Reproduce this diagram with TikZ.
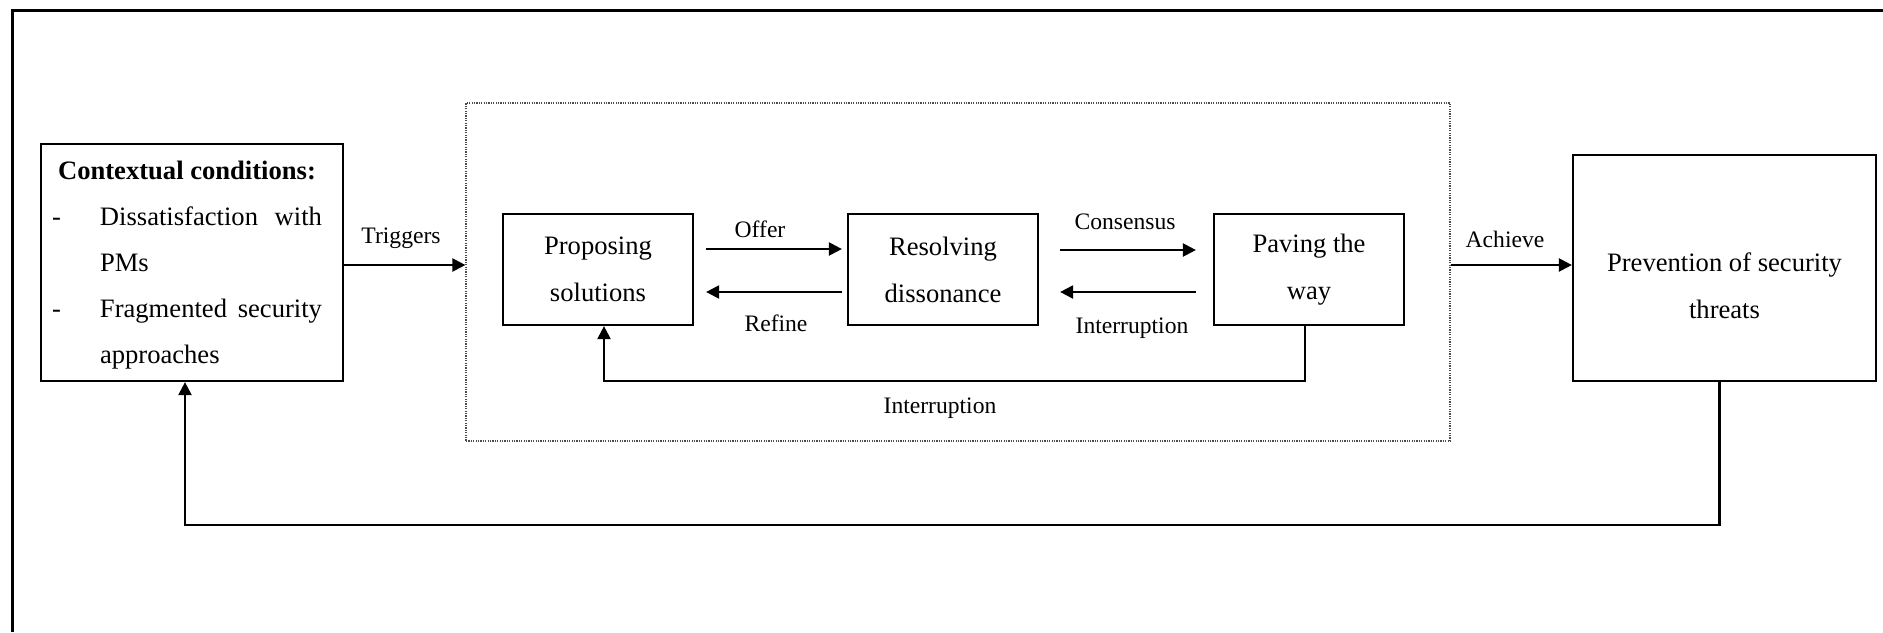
\documentclass[tikz,border=0pt]{standalone}
\usepackage{fontspec}
\setmainfont{Liberation Serif}
\usetikzlibrary{arrows.meta,calc}
\begin{document}
\begin{tikzpicture}[x=0.5pt,y=-0.5pt,
  box/.style={draw, line width=1.1pt, inner sep=0pt, align=center, font=\fontsize{13.3}{23.5}\selectfont},
  boxtext/.style={inner sep=0pt, align=center, font=\fontsize{13.3}{23.5}\selectfont},
  lbl/.style={inner sep=0pt, font=\fontsize{11.8}{14}\selectfont},
  arr/.style={line width=1.1pt, -{Triangle[length=6.5pt,width=6.5pt]}},
  frame/.style={line width=1.5pt},
  stagebox/.style={draw, black!70, line width=0.6pt, dash pattern=on 0.6pt off 0.6pt, inner sep=0pt}]
\useasboundingbox (0,0) rectangle (1883,632);
\draw[frame] (12,632) -- (12,10) -- (1883,10);

\node[stagebox, minimum width=492pt, minimum height=169pt] (stage) at (958,272) {};

\node[box, minimum width=151pt, minimum height=118.5pt, font=\fontsize{13.3}{23}\selectfont] (ctx) at (192,262.5)
  {\hspace*{-5pt}\begin{tabular}{@{}p{24pt}@{}p{111pt}@{}}
   \multicolumn{2}{@{}c@{}}{\bfseries Contextual conditions:}\\
   - & \leavevmode\hbox to 111pt{Dissatisfaction\hfill with}\\
     & PMs\\
   - & \leavevmode\hbox to 111pt{Fragmented\hfill security}\\
     & approaches
   \end{tabular}};

\node[box, minimum width=95pt, minimum height=55.5pt] (prop) at (598,269.5) {Proposing\\solutions};
\node[box, minimum width=95pt, minimum height=55.5pt] (res) at (943,269.5) {Resolving\\dissonance};
\node[box, minimum width=95pt, minimum height=55.5pt] (pav) at (1309,269.5) {Paving the\\way};

\node[box, minimum width=151.5pt, minimum height=113pt] (prev) at (1724.5,268) {};
\node[boxtext] (prevtext) at (1724.5,285.5) {Prevention of security\\threats};

\coordinate (mid) at (0,265);
\draw[arr] (ctx.east |- mid) -- (stage.west |- mid);
\node[lbl] (ltrig) at (401,238) {Triggers};
\draw[arr] (stage.east |- mid) -- (prev.west |- mid);
\node[lbl] (lach) at (1505,239) {Achieve};

\draw[arr, shorten <=6pt, shorten >=2.5pt] ([yshift=10.25pt]prop.east) -- ([yshift=10.25pt]res.west);
\node[lbl] (loffer) at (760,229) {Offer};
\draw[arr, shorten <=2.5pt, shorten >=6pt] ([yshift=-11.25pt]res.west) -- ([yshift=-11.25pt]prop.east);
\node[lbl] (lrefine) at (776,323) {Refine};

\draw[arr, shorten <=10.5pt, shorten >=8.5pt] ([yshift=9.75pt]res.east) -- ([yshift=9.75pt]pav.west);
\node[lbl] (lcons) at (1125,222) {Consensus};
\draw[arr, shorten <=8.5pt, shorten >=10.5pt] ([yshift=-11.25pt]pav.west) -- ([yshift=-11.25pt]res.east);
\node[lbl] (lint1) at (1132,328) {Interruption};

\coordinate (loopy) at (0,381);
\draw[arr] ([xshift=-2pt]pav.south) -- ([xshift=-2pt]pav.south |- loopy) -- ([xshift=3pt]prop.south |- loopy) -- ([xshift=3pt]prop.south);
\node[lbl] (lint2) at (940,408) {Interruption};

\coordinate (fby) at (0,525);
\draw[arr] ([xshift=-2.5pt]prev.south) -- ([xshift=-2.5pt]prev.south |- fby) -- ([xshift=-3.5pt]ctx.south |- fby) -- ([xshift=-3.5pt]ctx.south);
\end{tikzpicture}
\end{document}
